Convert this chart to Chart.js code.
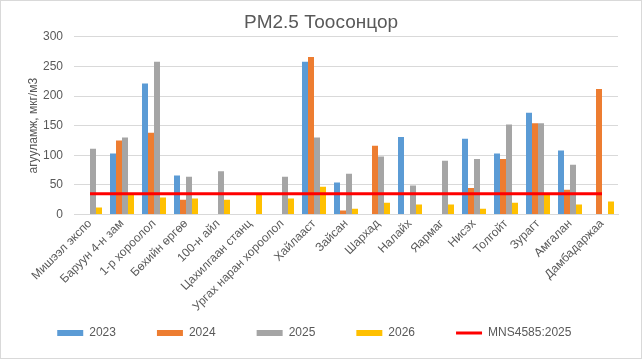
<!DOCTYPE html>
<html>
<head>
<meta charset="utf-8">
<script src="https://cdn.jsdelivr.net/npm/chart.js@4"></script>
<style>
  html, body { margin: 0; padding: 0; background: #fff; }
  #wrap { position: relative; width: 640px; height: 357px; border: 1px solid #d9d9d9; }
</style>
</head>
<body>
<div id="wrap"><canvas id="chart"></canvas></div>
<script>
// -------------------- Data --------------------
const stations = [
    'Мишээл экспо', 'Баруун 4-н зам', '1-р хороолол', 'Бөхийн өргөө', '100-н айл',
    'Цахилгаан станц', 'Ургах наран хороолол', 'Хайлааст', 'Зайсан', 'Шархад',
    'Налайх', 'Яармаг', 'Нисэх', 'Толгойт', 'Зурагт', 'Амгалан', 'Дамбадаржаа'
];
const pm2023 = [null, 103, 221, 66, null, null, null, 258, 54, null, 131, null, 128, 103, 172, 108, null];
const pm2024 = [null, 125, 138, 25, null, null, null, 266, 7, 116, null, null, 45, 94, 154, 42, 212];
const pm2025 = [111, 130, 258, 64, 73, null, 64, 130, 69, 98, 49, 91, 94, 152, 154, 84, null];
const pm2026 = [12, 35, 29, 27, 25, 36, 27, 47, 10, 20, 17, 17, 10, 20, 36, 17, 22];
const standardLimit = 35;
const yTicks = [0, 50, 100, 150, 200, 250, 300];

const textColor = '#595959';
const fontFamily = '"Liberation Sans", Arial, sans-serif';

function barSet(label, data, color) {
    return {
        type: 'bar',
        label: label,
        data: data,
        backgroundColor: color,
        categoryPercentage: 0.75,
        barPercentage: 1,
        pointStyle: 'rect',
        order: 2
    };
}

// legend: widen the year items so they sit on a ~100px stride like the original
function legendLabels(chart) {
    const items = Chart.defaults.plugins.legend.labels.generateLabels(chart);
    items.forEach(item => {
        item.text += ' '.repeat(item.datasetIndex < 4 ? 9 : 4);
    });
    return items;
}

new Chart(document.getElementById('chart'), {
    data: {
        labels: stations,
        datasets: [
            barSet('2023', pm2023, '#5B9BD5'),
            barSet('2024', pm2024, '#ED7D31'),
            barSet('2025', pm2025, '#A5A5A5'),
            barSet('2026', pm2026, '#FFC000'),
            {
                type: 'line',
                label: 'MNS4585:2025',
                data: stations.map(() => standardLimit),
                borderColor: '#FF0000',
                backgroundColor: '#FF0000',
                borderWidth: 3,
                pointRadius: 0,
                pointStyle: 'line',
                order: 1
            }
        ]
    },
    options: {
        responsive: true,
        maintainAspectRatio: false,
        animation: false,
        layout: { padding: { left: 23, right: 23, top: 6, bottom: 9 } },
        plugins: {
            title: {
                display: true,
                text: 'PM2.5 Тоосонцор',
                color: textColor,
                font: { family: fontFamily, size: 19, weight: 'normal' },
                padding: { top: 4, bottom: 3 }
            },
            legend: {
                position: 'bottom',
                labels: {
                    color: textColor,
                    font: { family: fontFamily, size: 12 },
                    usePointStyle: true,
                    pointStyleWidth: 26,
                    boxHeight: 6,
                    padding: 11,
                    generateLabels: legendLabels,
                    sort: (a, b) => a.datasetIndex - b.datasetIndex
                }
            },
            tooltip: { enabled: false }
        },
        scales: {
            x: {
                grid: { display: false, drawTicks: false },
                border: { color: '#d9d9d9' },
                // first rotated label may hang out under the y axis, as in the original
                afterFit: (scale) => { scale.paddingLeft = 20; },
                ticks: {
                    color: textColor,
                    font: { family: fontFamily, size: 12 },
                    maxRotation: 45,
                    minRotation: 45,
                    autoSkip: false,
                    padding: 2
                }
            },
            y: {
                min: 0,
                max: 300,
                afterBuildTicks: (axis) => { axis.ticks = yTicks.map(v => ({ value: v })); },
                afterFit: (scale) => { scale.width = 50; },
                grid: { color: '#d9d9d9', drawTicks: false },
                border: { display: false },
                ticks: {
                    color: textColor,
                    font: { family: fontFamily, size: 12 },
                    padding: 11
                },
                title: {
                    display: true,
                    text: 'агууламж, мкг/м3',
                    color: textColor,
                    font: { family: fontFamily, size: 12 },
                    padding: { top: 2, bottom: 2 }
                }
            }
        }
    }
});
</script>
</body>
</html>
